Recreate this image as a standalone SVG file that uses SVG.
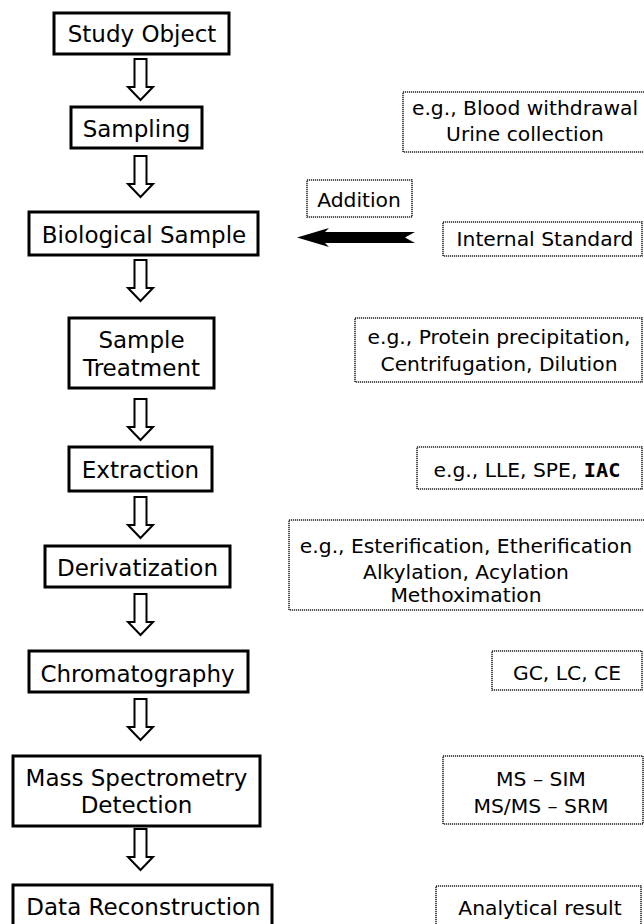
<svg xmlns="http://www.w3.org/2000/svg" xmlns:xlink="http://www.w3.org/1999/xlink" width="644" height="924" viewBox="0 0 644 924">
<style>
.box{fill:#fff;stroke:#000;stroke-width:3}
.note{fill:#fff;stroke:#222;stroke-width:1.5;stroke-dasharray:1.2 0.8}
.t{font-family:"DejaVu Sans","Liberation Sans",sans-serif;font-size:23px;fill:#000;text-anchor:middle}
.s{font-family:"DejaVu Sans","Liberation Sans",sans-serif;font-size:20.3px;fill:#000;text-anchor:middle}
.b{font-family:"DejaVu Sans Mono","Liberation Mono",monospace;font-weight:bold}
.arr{fill:#fff;stroke:#000;stroke-width:2;stroke-linejoin:miter}
</style>
<defs>
<path id="down" class="arr" d="M-6 0 H6 V28 H12.5 L0 41 L-12.5 28 H-6 Z"/>
</defs>
<rect width="644" height="924" fill="#fff"/>
<g id="connectors">
<use xlink:href="#down" x="140.5" y="59"/>
<use xlink:href="#down" x="140.5" y="156"/>
<use xlink:href="#down" x="140.5" y="260"/>
<use xlink:href="#down" x="140.5" y="399"/>
<use xlink:href="#down" x="140.5" y="497"/>
<use xlink:href="#down" x="140.5" y="594"/>
<use xlink:href="#down" x="140.5" y="699"/>
<use xlink:href="#down" x="140.5" y="829"/>
<path id="addition-arrow" d="M297 237.5 L329 228 L325 232 H415 L405 237.5 L415 243 H325 L329 247 Z" fill="#000"/>
</g>
<g id="study-object"><rect class="box" x="54" y="13" width="175" height="41"/><text class="t" x="142" y="42">Study Object</text></g>
<g id="sampling"><rect class="box" x="71" y="107" width="131" height="41"/><text class="t" x="136.5" y="137">Sampling</text></g>
<g id="biological-sample"><rect class="box" x="29" y="212" width="229" height="43"/><text class="t" x="144" y="243">Biological Sample</text></g>
<g id="sample-treatment"><rect class="box" x="69" y="318" width="145" height="70"/><text class="t" x="141.5" y="348">Sample</text><text class="t" x="141.5" y="376">Treatment</text></g>
<g id="extraction"><rect class="box" x="69" y="447" width="143" height="44"/><text class="t" x="140.5" y="478">Extraction</text></g>
<g id="derivatization"><rect class="box" x="45" y="546" width="185" height="41"/><text class="t" x="137.5" y="576">Derivatization</text></g>
<g id="chromatography"><rect class="box" x="29" y="651" width="219" height="41"/><text class="t" x="137.5" y="682">Chromatography</text></g>
<g id="ms-detection"><rect class="box" x="13" y="756" width="247" height="70"/><text class="t" x="136.5" y="786">Mass Spectrometry</text><text class="t" x="136.5" y="813">Detection</text></g>
<g id="data-reconstruction"><rect class="box" x="13" y="885" width="259" height="50"/><text class="t" x="143.5" y="915">Data Reconstruction</text></g>
<g id="note-sampling"><rect class="note" x="403" y="92" width="245" height="60"/><text class="s" x="525" y="115">e.g., Blood withdrawal</text><text class="s" x="525" y="141">Urine collection</text></g>
<g id="note-addition"><rect class="note" x="307" y="180" width="105" height="37"/><text class="s" x="359" y="207">Addition</text></g>
<g id="note-internal-standard"><rect class="note" x="443" y="222" width="199" height="34"/><text class="s" x="545" y="246">Internal Standard</text></g>
<g id="note-treatment"><rect class="note" x="355" y="318" width="287" height="64"/><text class="s" x="499" y="344">e.g., Protein precipitation,</text><text class="s" x="499" y="371">Centrifugation, Dilution</text></g>
<g id="note-extraction"><rect class="note" x="417" y="447" width="225" height="42"/><text class="s" x="527" y="477">e.g., LLE, SPE, <tspan class="b">IAC</tspan></text></g>
<g id="note-derivatization"><rect class="note" x="289" y="520" width="357" height="90"/><text class="s" x="466" y="553">e.g., Esterification, Etherification</text><text class="s" x="466" y="579">Alkylation, Acylation</text><text class="s" x="466" y="602">Methoximation</text></g>
<g id="note-chromatography"><rect class="note" x="492" y="651" width="150" height="39"/><text class="s" x="567" y="680">GC, LC, CE</text></g>
<g id="note-ms"><rect class="note" x="443" y="756" width="200" height="68"/><text class="s" x="541" y="786">MS – SIM</text><text class="s" x="541" y="813">MS/MS – SRM</text></g>
<g id="note-result"><rect class="note" x="436" y="886" width="205" height="50"/><text class="s" x="540" y="915">Analytical result</text></g>
</svg>
